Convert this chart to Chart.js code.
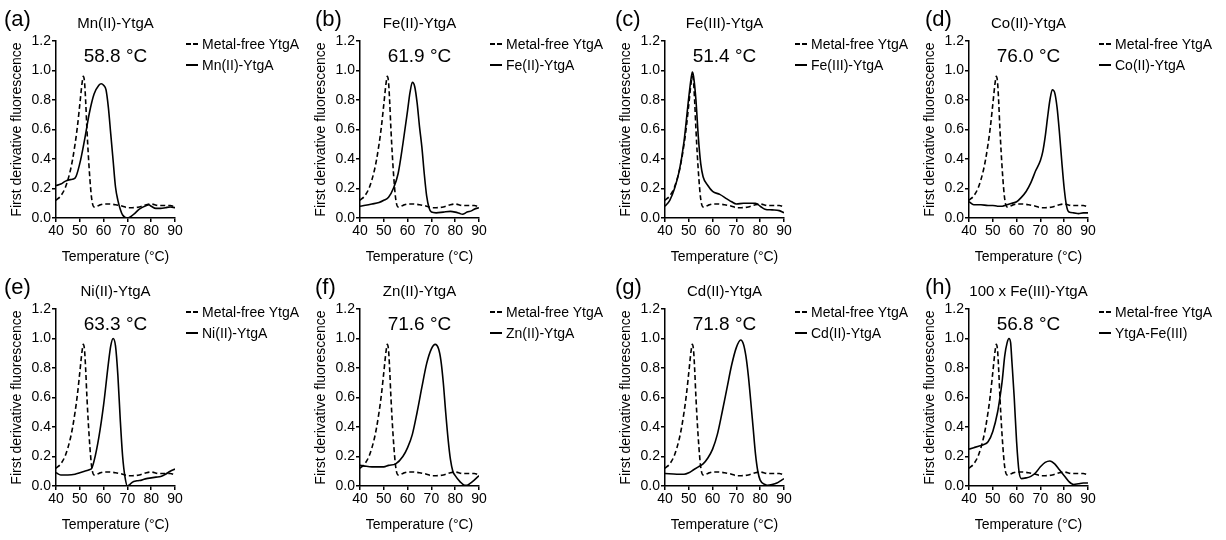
<!DOCTYPE html>
<html>
<head>
<meta charset="utf-8">
<script src="https://cdn.jsdelivr.net/npm/chart.js@4"></script>
<style>
body{margin:0;background:#fff;width:1226px;height:540px;position:relative;overflow:hidden;font-family:"Liberation Sans",Arial,sans-serif;color:#000}
canvas{position:absolute}
.c{position:absolute;transform:translate(-50%,-50%);white-space:nowrap;line-height:1}
.lab{position:absolute;transform:translateY(-50%);font-size:22px;line-height:1}
.leg{position:absolute;font-size:14px;line-height:1;white-space:nowrap;transform:translateY(-50%)}
.leg span{display:inline-block;width:12px;height:2px;vertical-align:middle;margin-right:4px;background:#000;position:relative;top:-1px}
.leg span.d{background:repeating-linear-gradient(to right,#000 0 5px,transparent 5px 7px)}
</style>
</head>
<body>
<script>
// panel texts
var letters=['(a)','(b)','(c)','(d)','(e)','(f)','(g)','(h)'];
var titles=['Mn(II)-YtgA','Fe(II)-YtgA','Fe(III)-YtgA','Co(II)-YtgA','Ni(II)-YtgA','Zn(II)-YtgA','Cd(II)-YtgA','100 x Fe(III)-YtgA'];
var tmLabels=['58.8 °C','61.9 °C','51.4 °C','76.0 °C','63.3 °C','71.6 °C','71.8 °C','56.8 °C'];
var freeName='Metal-free YtgA';
var metalNames=['Mn(II)-YtgA','Fe(II)-YtgA','Fe(III)-YtgA','Co(II)-YtgA','Ni(II)-YtgA','Zn(II)-YtgA','Cd(II)-YtgA','YtgA-Fe(III)'];
var xTitle='Temperature (°C)';
var yTitle='First derivative fluorescence';

// metal-free curve (same in every panel)
var freeT=[40,42,44,46,47,48,49,50,51,51.5,52,52.5,53,54,55,56,58,60,62,65,68,70,72,75,78,80,83,86,88,90];
var freeY=[0.12,0.15,0.21,0.32,0.40,0.50,0.62,0.77,0.92,0.96,0.92,0.78,0.6,0.32,0.13,0.075,0.085,0.095,0.095,0.09,0.08,0.07,0.07,0.075,0.09,0.095,0.085,0.085,0.085,0.075];

// metal-bound curves
var mnT=[40,42,44,46,48,50,52,54,56,58,59,60,61,62,63,64,65,66,67,68,70,71,73,75,78,79,80,82,84,86,88,90];
var mnY=[0.22,0.23,0.25,0.26,0.27,0.37,0.53,0.71,0.84,0.90,0.91,0.90,0.87,0.75,0.57,0.39,0.21,0.12,0.06,0.02,0.0,0.005,0.03,0.06,0.085,0.09,0.08,0.065,0.065,0.07,0.075,0.07];
var fe2T=[40,45,48,50,52,54,56,58,60,61,62,63,64,65,66,67,68,69,70,72,75,78,80,82,83,85,87,88,90];
var fe2Y=[0.08,0.095,0.105,0.12,0.14,0.20,0.30,0.50,0.73,0.85,0.92,0.89,0.78,0.62,0.48,0.30,0.15,0.07,0.04,0.035,0.04,0.045,0.04,0.03,0.025,0.04,0.05,0.06,0.07];
var fe3T=[40,42,44,46,48,50,51,51.5,52,53,54,55,56,58,60,63,66,68,70,73,76,78,80,82,85,88,90];
var fe3Y=[0.08,0.12,0.2,0.32,0.52,0.82,0.95,0.99,0.96,0.8,0.55,0.37,0.28,0.22,0.18,0.16,0.13,0.11,0.095,0.1,0.1,0.1,0.08,0.06,0.055,0.05,0.035];
var coT=[40,42,45,48,50,52,54,56,58,60,62,64,66,68,70,71,72,73,74,75,76,77,78,79,80,81,82,84,86,88,90];
var coY=[0.11,0.09,0.09,0.085,0.085,0.08,0.08,0.09,0.1,0.11,0.14,0.18,0.24,0.32,0.39,0.45,0.55,0.68,0.8,0.87,0.85,0.75,0.58,0.38,0.2,0.08,0.04,0.035,0.03,0.035,0.035];
var niT=[40,42,45,48,50,52,54,55,56,58,60,62,63,64,65,66,67,68,69,70,71,72,74,76,78,80,82,84,86,88,90];
var niY=[0.09,0.075,0.075,0.08,0.09,0.1,0.11,0.12,0.17,0.33,0.55,0.83,0.95,1.0,0.95,0.75,0.45,0.2,0.06,0.0,0.01,0.025,0.035,0.04,0.05,0.055,0.06,0.065,0.08,0.1,0.115];
var znT=[40,42,45,48,50,52,55,58,60,62,64,66,68,70,71.6,73,74,75,76,77,78,79,80,82,84,85,86,88,90];
var znY=[0.14,0.135,0.13,0.13,0.13,0.14,0.15,0.2,0.26,0.35,0.5,0.67,0.83,0.93,0.96,0.93,0.85,0.7,0.5,0.32,0.18,0.1,0.07,0.03,0.005,0.005,0.015,0.04,0.07];
var cdT=[40,45,48,50,52,54,56,58,60,62,64,66,68,70,71.8,73,74,75,76,77,78,79,80,82,83,85,87,89,90];
var cdY=[0.085,0.08,0.08,0.09,0.11,0.13,0.15,0.19,0.25,0.35,0.5,0.66,0.82,0.94,0.99,0.96,0.88,0.75,0.58,0.4,0.22,0.1,0.04,0.01,0.005,0.01,0.02,0.04,0.05];
var fe100T=[40,42,44,46,48,50,52,53,54,55,56,56.8,57.5,58,59,60,61,62,64,66,68,70,72,74,76,78,80,82,84,86,88,90];
var fe100Y=[0.25,0.26,0.27,0.28,0.3,0.37,0.5,0.6,0.72,0.88,0.97,1.0,0.97,0.85,0.6,0.3,0.1,0.05,0.055,0.065,0.09,0.13,0.16,0.17,0.15,0.11,0.07,0.03,0.01,0.015,0.02,0.02];

var metalT=[mnT,fe2T,fe3T,coT,niT,znT,cdT,fe100T];
var metalY=[mnY,fe2Y,fe3Y,coY,niY,znY,cdY,fe100Y];

// axis ticks
var xMin=40,xMax=90,xStep=10;
var yMin=0,yMax=1.2,yStep=0.2;

// layout of each panel's plot area on the page
var plotLeft=[56,360,665,969,56,360,665,969];
var plotTop=[41,41,41,41,309,309,309,309];
var PW=119,PH=177;

var FONT='"Liberation Sans", Arial, sans-serif';
Chart.defaults.font.family=FONT;
Chart.defaults.color='#000';

function pts(t,v){
  var out=[];
  for(var i=0;i<t.length;i++) out.push({x:t[i],y:v[i]});
  return out;
}

function addText(cls,txt,x,y,size){
  var d=document.createElement('div');
  d.className=cls;
  d.textContent=txt;
  d.style.left=x+'px';
  d.style.top=y+'px';
  if(size) d.style.fontSize=size+'px';
  document.body.appendChild(d);
  return d;
}

function panel(i){
  var L=plotLeft[i], T=plotTop[i];
  var cv=document.createElement('canvas');
  cv.width=56+PW+12; cv.height=41+PH+50;
  cv.style.left=(L-56)+'px';
  cv.style.top=(T-41)+'px';
  document.body.appendChild(cv);

  new Chart(cv,{
    type:'line',
    data:{datasets:[
      {label:freeName,data:pts(freeT,freeY),borderColor:'#000',borderWidth:1.6,borderDash:[5,3],pointRadius:0,fill:false,cubicInterpolationMode:'monotone'},
      {label:metalNames[i],data:pts(metalT[i],metalY[i]),borderColor:'#000',borderWidth:1.6,pointRadius:0,fill:false,cubicInterpolationMode:'monotone'}
    ]},
    options:{
      responsive:false,animation:false,
      layout:{padding:{top:41,right:12,left:0,bottom:0}},
      plugins:{legend:{display:false},tooltip:{enabled:false}},
      scales:{
        x:{type:'linear',min:xMin,max:xMax,
          ticks:{stepSize:xStep,font:{size:14},padding:1,maxRotation:0,color:'#000'},
          grid:{drawOnChartArea:false,drawTicks:true,tickLength:4,color:'#000',lineWidth:1.5},
          border:{color:'#000',width:1.5},
          title:{display:true,text:xTitle,font:{size:14},color:'#000',padding:{top:0,bottom:2.5}},
          afterFit:function(s){s.height=50;}},
        y:{type:'linear',min:yMin,max:yMax,
          ticks:{stepSize:yStep,font:{size:14},padding:1,color:'#000',callback:function(v){return v.toFixed(1);}},
          grid:{drawOnChartArea:false,drawTicks:true,tickLength:4,color:'#000',lineWidth:1.5},
          border:{color:'#000',width:1.5},
          title:{display:true,text:yTitle,font:{size:14},color:'#000',padding:{top:8.5,bottom:0}},
          afterFit:function(s){s.width=56;}}
      }
    }
  });

  var row=T-41;
  var lx=[4,315,615,925][i%4];
  addText('lab',letters[i],lx,row+19);
  addText('c',titles[i],L+PW/2,row+22,15);
  addText('c',tmLabels[i],L+PW/2,row+55,19);
  var g1=addText('leg','',L+130,row+44);
  g1.innerHTML='<span class="d"></span>'+freeName;
  var g2=addText('leg','',L+130,row+65);
  g2.innerHTML='<span></span>'+metalNames[i];
}

for(var i=0;i<8;i++) panel(i);
</script>
</body>
</html>
